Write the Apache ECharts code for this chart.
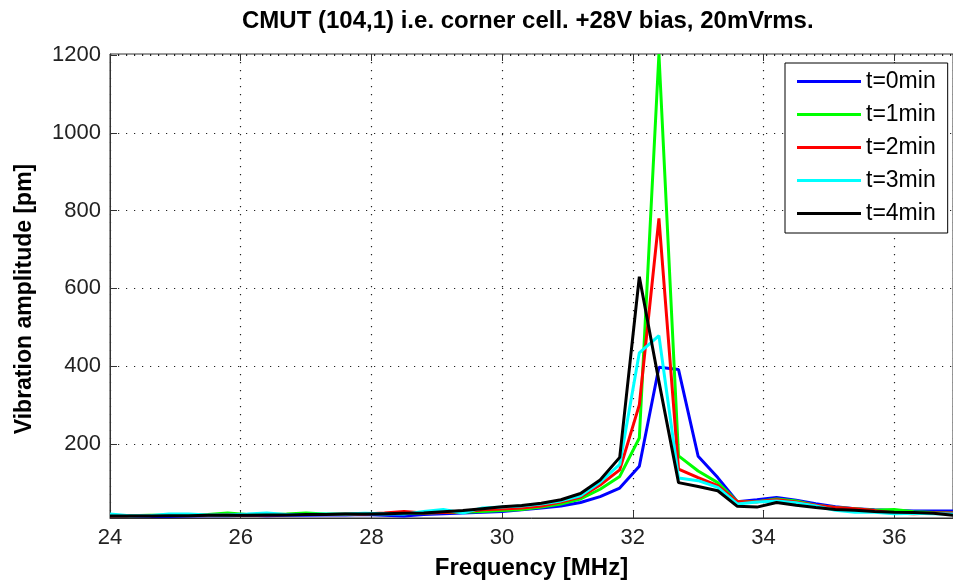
<!DOCTYPE html>
<html>
<head>
<meta charset="utf-8">
<script src="https://cdn.jsdelivr.net/npm/echarts@6/dist/echarts.min.js"></script>
<style>
  html, body { margin: 0; padding: 0; background: #fff; }
  #chart { width: 953px; height: 585px; }
</style>
</head>
<body>
<div id="chart"></div>
<script>
// Frequencies [MHz]
const freqs = [24.0, 24.3, 24.6, 24.9, 25.2, 25.5, 25.8, 26.1, 26.4, 26.7,
               27.0, 27.3, 27.6, 27.9, 28.2, 28.5, 28.8, 29.1, 29.4, 29.7,
               30.0, 30.3, 30.6, 30.9, 31.2, 31.5, 31.8, 32.1, 32.4, 32.7,
               33.0, 33.3, 33.6, 33.9, 34.2, 34.5, 34.8, 35.1, 35.4, 35.7,
               36.0, 36.3, 36.6, 36.9];

// Vibration amplitude [pm]
const t0 = [14, 14, 13, 13, 14, 15, 15, 16, 15, 16,
            16, 17, 17, 18, 16, 14, 18, 20, 22, 24,
            26, 30, 35, 40, 49, 64, 86, 142, 397, 391,
            168, 113, 51, 56, 62, 55, 46, 38, 33, 30,
            28, 27, 27, 27];
const t1 = [15, 15, 16, 16, 17, 18, 22, 18, 18, 19,
            22, 19, 19, 20, 20, 21, 22, 23, 24, 26,
            28, 31, 37, 45, 58, 83, 116, 215, 1203, 169,
            130, 100, 51, 51, 58, 53, 42, 36, 33, 29,
            31, 25, 23, 22];
const t2 = [14, 15, 15, 16, 16, 16, 17, 17, 17, 18,
            18, 18, 19, 19, 22, 26, 22, 23, 25, 30,
            32, 35, 40, 50, 63, 94, 133, 300, 780, 135,
            113, 92, 51, 51, 56, 50, 42, 36, 33, 28,
            22, 20, 22, 22];
const t3 = [19, 15, 15, 19, 19, 17, 17, 19, 22, 18,
            18, 19, 19, 21, 20, 19, 26, 31, 22, 35,
            37, 40, 45, 53, 66, 101, 147, 434, 478, 112,
            105, 88, 45, 50, 53, 48, 40, 29, 24, 24,
            20, 21, 20, 19];
const t4 = [14, 14, 14, 15, 15, 16, 16, 16, 17, 17,
            18, 18, 19, 19, 20, 21, 22, 25, 28, 33,
            38, 41, 47, 56, 72, 107, 165, 630, 360, 100,
            90, 79, 39, 37, 49, 42, 36, 31, 29, 26,
            24, 23, 21, 16];

const seriesNames = ['t=0min', 't=1min', 't=2min', 't=3min', 't=4min'];
const seriesValues = [t0, t1, t2, t3, t4];
const seriesColors = ['#0000ff', '#00ff00', '#ff0000', '#00ffff', '#000000'];

const xTicks = [24, 26, 28, 30, 32, 34, 36];

const FONT = '"Liberation Sans", Arial, Helvetica, sans-serif';

const chart = echarts.init(document.getElementById('chart'), null, { renderer: 'canvas' });

const series = seriesNames.map((name, i) => ({
  name: name,
  type: 'line',
  xAxisIndex: 0,
  yAxisIndex: 0,
  data: freqs.map((f, j) => [f, seriesValues[i][j]]),
  symbol: 'none',
  showSymbol: false,
  color: seriesColors[i],
  lineStyle: { color: seriesColors[i], width: 3 },
  clip: true,
  animation: false
}));

const xMin = 24, xMax = 36.9, yMin = 9, yMax = 1203;

chart.setOption({
  animation: false,
  backgroundColor: '#ffffff',
  title: {
    text: 'CMUT (104,1) i.e. corner cell. +28V bias, 20mVrms.',
    left: 242,
    top: 9,
    padding: 0,
    textStyle: { fontFamily: FONT, fontSize: 24, fontWeight: 'bold', color: '#000' }
  },
  legend: {
    data: seriesNames,
    orient: 'vertical',
    left: 785,
    top: 63,
    padding: [7, 12, 8, 12],
    itemGap: 10,
    itemWidth: 64,
    itemHeight: 3,
    icon: 'rect',
    backgroundColor: '#ffffff',
    borderColor: '#000000',
    borderWidth: 1,
    textStyle: { fontFamily: FONT, fontSize: 23, color: '#000' }
  },
  grid: {
    left: 110,
    right: -6,
    top: 54,
    bottom: 65.5,
    show: true,
    borderColor: '#333',
    borderWidth: 1,
    backgroundColor: '#fff',
    containLabel: false
  },
  xAxis: [{
    type: 'value',
    min: xMin,
    max: xMax,
    interval: 2,
    name: 'Frequency [MHz]',
    nameLocation: 'middle',
    nameGap: 38,
    nameTextStyle: { fontFamily: FONT, fontSize: 24, fontWeight: 'bold', color: '#000' },
    axisLine: { show: true, onZero: false, lineStyle: { color: '#333', width: 1 } },
    axisTick: { show: true, inside: true, length: 7, lineStyle: { color: '#333' } },
    axisLabel: {
      showMaxLabel: false,
      margin: 9,
      fontFamily: FONT, fontSize: 22, color: '#222',
      formatter: v => (xTicks.indexOf(v) >= 0 ? String(v) : '')
    },
    splitLine: { show: true, lineStyle: { color: '#222', width: 1.2, type: [1.2, 6.8] } }
  }, {
    type: 'value',
    position: 'top',
    min: xMin,
    max: xMax,
    interval: 2,
    axisLine: { show: false },
    axisTick: { show: true, inside: true, length: 7, lineStyle: { color: '#333' } },
    axisLabel: { show: false },
    splitLine: { show: false }
  }],
  yAxis: [{
    type: 'value',
    min: yMin,
    max: yMax,
    splitNumber: 6,
    name: 'Vibration amplitude [pm]',
    nameLocation: 'middle',
    nameGap: 74,
    nameTextStyle: { fontFamily: FONT, fontSize: 23, fontWeight: 'bold', color: '#000', padding: [0, 26, 0, 0] },
    axisLine: { show: true, onZero: false, lineStyle: { color: '#333', width: 1 } },
    axisTick: { show: true, inside: true, length: 7, lineStyle: { color: '#333' } },
    axisLabel: {
      showMinLabel: false,
      showMaxLabel: false,
      margin: 9,
      fontFamily: FONT, fontSize: 22, color: '#222',
      formatter: v => (v % 200 === 0 ? String(v) : '')
    },
    splitLine: { show: true, lineStyle: { color: '#222', width: 1.2, type: [1.2, 6.8] } }
  }],
  series: series
});
</script>
</body>
</html>
